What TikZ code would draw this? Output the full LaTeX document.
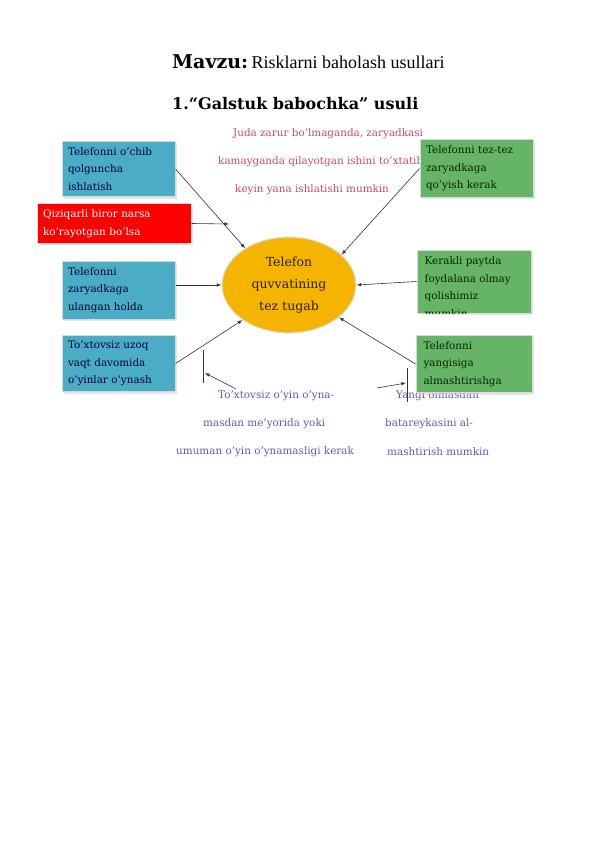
\documentclass[tikz,border=0pt]{standalone}
\usepackage{fontspec}
\setmainfont{Liberation Serif}
\newfontfamily\boxfont{DejaVu Serif}
\usepackage{xcolor}
\usetikzlibrary{
    arrows,
    shapes,
    shadows,
    positioning
}
\definecolor{boxblue}{RGB}{75,172,198}
\definecolor{boxgreen}{RGB}{102,180,102}
\definecolor{boxred}{RGB}{255,0,0}
\definecolor{ovalgold}{RGB}{245,180,0}
\definecolor{notepink}{RGB}{196,72,112}
\definecolor{notepurple}{RGB}{112,84,160}

\begin{document}
\begin{tikzpicture}[x=1pt, y=-1pt,
    boxtext/.style={align=left, font={\boxfont\fontsize{10.4}{17.5}\selectfont}},
    box/.style={boxtext, draw=white!70!gray, line width=1pt, inner sep=6pt,
        drop shadow={shadow xshift=1.5pt, shadow yshift=-2pt, fill=black!20}},
    bluebox/.style={box, fill=boxblue, text=black!80!blue, minimum width=113pt, text width=101pt},
    greenbox/.style={box, fill=boxgreen, text=black!85!green, minimum width=113pt, text width=101pt},
    redbox/.style={box, fill=boxred, text=white, minimum width=154pt, text width=142pt},
    note/.style={inner sep=0pt, anchor=west, font={\boxfont\fontsize{10.4}{12}\selectfont}},
    link/.style={draw=black!80, line width=0.6pt, -latex}
]
\useasboundingbox (0,0) rectangle (596,842);

% title
\node[anchor=base west, inner sep=0pt] (title) at (172,69)
    {{\boxfont\bfseries\fontsize{19}{21}\selectfont Mavzu:} {\fontsize{18}{20}\selectfont Risklarni baholash usullari}};
\node[anchor=base west, inner sep=0pt] (subtitle) at (172,110)
    {\boxfont\bfseries\fontsize{16}{18}\selectfont 1.“Galstuk babochka” usuli};

% notes behind the boxes
\node[note, text=notepink] (p1) at (233,134) {Juda zarur bo’lmaganda, zaryadkasi};
\node[note, text=notepink] (p2) at (218,162) {kamayganda qilayotgan ishini to’xtatib};
\node[note, text=notepink] (p3) at (235,190) {keyin yana ishlatishi mumkin};
\node[note, text=notepurple] (q1) at (218,396) {To’xtovsiz o’yin o’yna-};
\node[note, text=notepurple] (q2) at (203,424) {masdan me’yorida yoki};
\node[note, text=notepurple] (q3) at (176,452) {umuman o’yin o’ynamasligi kerak};
\node[note, text=notepurple] (r1) at (396,396) {Yangi olmasdan};
\node[note, text=notepurple] (r2) at (385,424) {batareykasini al-};
\node[note, text=notepurple] (r3) at (387,452) {mashtirish mumkin};

% centre
\node[ellipse, draw=white!75!gray, line width=1.2pt, fill=ovalgold, minimum width=134pt, minimum height=96pt,
    align=center, text=black!75!brown, font={\boxfont\fontsize{12.5}{22}\selectfont}] (ell) at (289,285)
    {Telefon\\quvvatining\\tez tugab};

% causes
\node[bluebox, minimum height=54pt] (b1) at (118.5,169) {Telefonni o’chib\\qolguncha\\ishlatish};
\node[redbox, minimum height=39pt] (red) at (114,223.5) {Qiziqarli biror narsa\\ko’rayotgan bo’lsa};
\node[bluebox, minimum height=58pt] (b3) at (118.5,290) {Telefonni\\zaryadkaga\\ulangan holda};
\node[bluebox, minimum height=55pt] (b4) at (118.5,363.5) {To’xtovsiz uzoq\\vaqt davomida\\o’yinlar o’ynash};

% consequences
\node[greenbox, minimum height=55pt] (g5) at (476.5,168.5) {Telefonni tez-tez\\zaryadkaga\\qo’yish kerak};
\node[greenbox, minimum width=114pt, minimum height=63pt] (g6) at (474,281.5) {};
\begin{scope}
    \clip (g6.south west) rectangle (g6.north east);
    \node[boxtext, text=black!85!green, anchor=north west, inner sep=0pt]
        (g6t) at ([shift={(8,7)}]g6.north west) {Kerakli paytda\\foydalana olmay\\qolishimiz\\mumkin};
\end{scope}
\node[greenbox, minimum width=116pt, minimum height=56pt] (g7) at (474,364) {Telefonni\\yangisiga\\almashtirishga};

% free ends
\coordinate (redtip) at (229,224);
\coordinate (lbar1) at (203,350);
\coordinate (lbar2) at (203,383);
\coordinate (lfrom) at (236,389);
\coordinate (lto) at (205,373);
\coordinate (rbar1) at (407,368);
\coordinate (rbar2) at (407,402);
\coordinate (rfrom) at (377,388);
\coordinate (rto) at (406,383);

\draw[link] (b1.east) -- (ell.140);
\draw[link] (red.east) -- (redtip);
\draw[link] (b3.east |- ell.west) -- (ell.west);
\draw[link] (b4.east) -- (ell.217);
\draw[link] (g5.west) -- (ell.30);
\draw[link] (g6.west) -- (ell.east);
\draw[link] (g7.west) -- (ell.327);
\draw[draw=black!80, line width=0.6pt] (lbar1) -- (lbar2);
\draw[link] (lfrom) -- (lto);
\draw[draw=black!80, line width=0.6pt] (rbar1) -- (rbar2);
\draw[link] (rfrom) -- (rto);
\end{tikzpicture}
\end{document}
